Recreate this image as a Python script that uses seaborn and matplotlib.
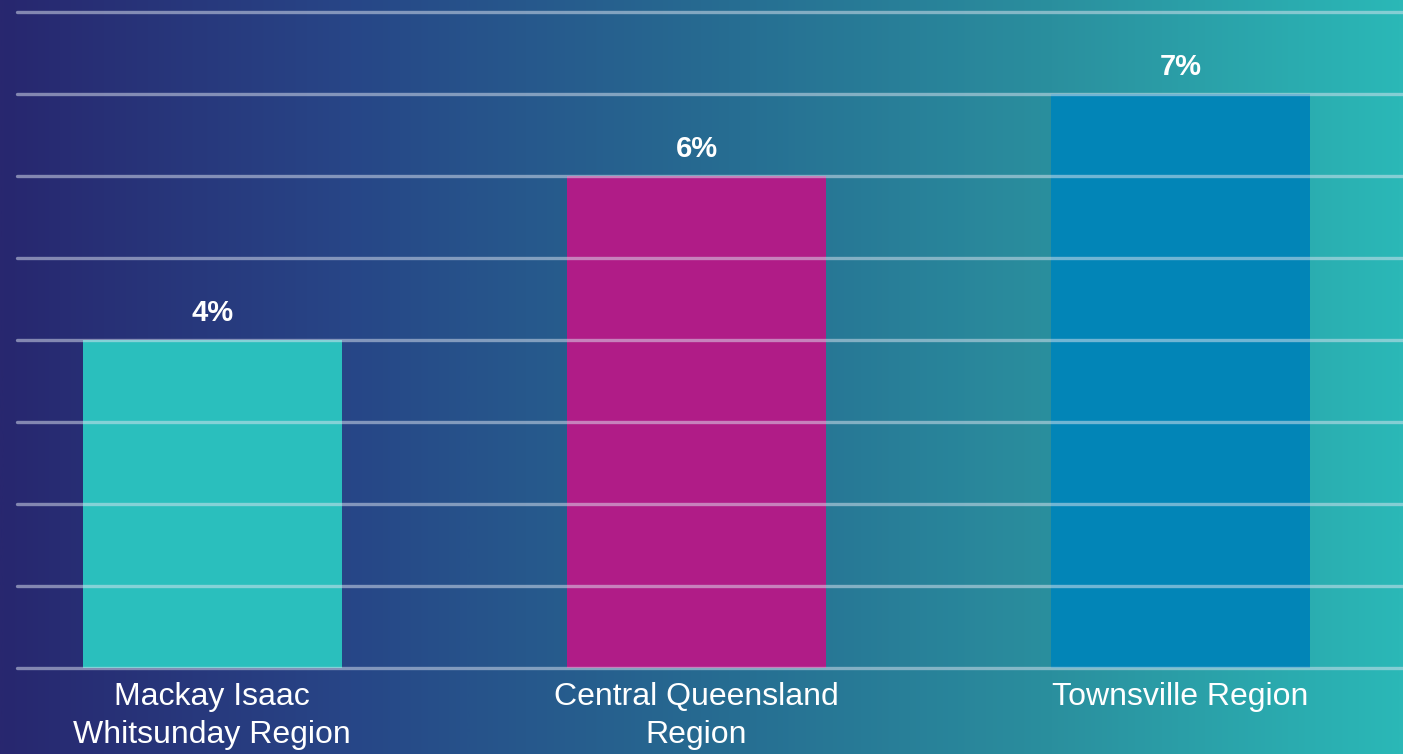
import numpy as np
import pandas as pd
import seaborn as sns
import matplotlib.pyplot as plt
from matplotlib.colors import LinearSegmentedColormap

# data
regions = ["Mackay Isaac\nWhitsunday Region", "Central Queensland\nRegion", "Townsville Region"]
shares = [4, 6, 7]
bar_colors = ["#2abfbd", "#b01c87", "#0285b7"]
y_ticks = [0, 1, 2, 3, 4, 5, 6, 7, 8]

sns.set_style("white")
plt.rcParams['font.family'] = ['Liberation Sans', 'DejaVu Sans']

df = pd.DataFrame({"region": regions, "share": shares})

fig = plt.figure(figsize=(14.03, 7.54), dpi=100)

# gradient background over the whole figure
bg = fig.add_axes([0, 0, 1, 1], zorder=-1)
grad_cmap = LinearSegmentedColormap.from_list(
    "bg", ["#28276f", "#274687", "#266a91", "#2a8f9e", "#2bb8b7"])
bg.imshow(np.linspace(0, 1, 512).reshape(1, -1), aspect="auto", cmap=grad_cmap,
          extent=[0, 1, 0, 1])
bg.set_axis_off()

W, H = 1403, 754
ax = fig.add_axes([17 / W, 86 / H, (W - 17) / W, 668 / H])
ax.patch.set_alpha(0)

sns.barplot(data=df, x="region", y="share", hue="region", palette=bar_colors,
            width=0.535, saturation=1, legend=False, ax=ax, zorder=1,
            linewidth=0, edgecolor="none")

# value labels above bars
for c in ax.containers:
    ax.bar_label(c, labels=[f"{v:.0f}%" for v in c.datavalues], padding=9,
                 color="white", fontsize=21, fontweight="bold")

ax.set_ylim(0, 8.146)
ax.set_xlim(-0.4035, 2.4595)
ax.set_yticks(y_ticks)
ax.set_yticklabels([])
ax.set_axisbelow(False)
ax.grid(axis="y", color="#dfe6f2", alpha=0.5, linewidth=2.4, zorder=3)
for gl in ax.yaxis.get_gridlines():
    gl.set_clip_on(False)

ax.set_xlabel("")
ax.set_ylabel("")
ax.tick_params(axis="x", length=0, pad=10, labelsize=23, labelcolor="white")
ax.tick_params(axis="y", length=0)
for lab in ax.get_xticklabels():
    lab.set_linespacing(1.35)
sns.despine(ax=ax, left=True, bottom=True)

fig.savefig("out.png", dpi=100)
